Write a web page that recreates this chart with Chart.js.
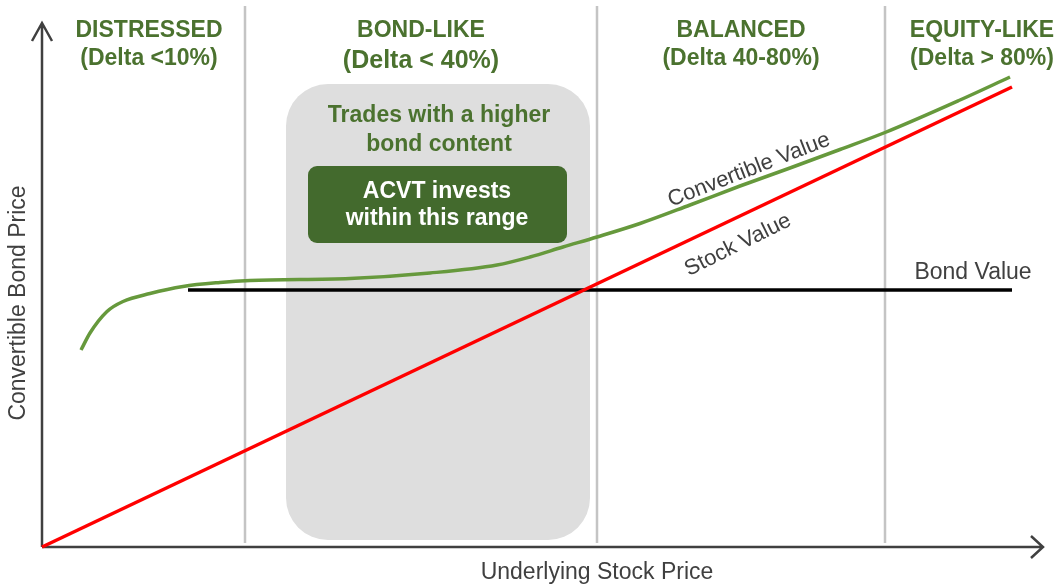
<!DOCTYPE html>
<html>
<head>
<meta charset="utf-8">
<script src="https://cdn.jsdelivr.net/npm/chart.js@4.4.1/dist/chart.umd.min.js"></script>
<style>
  html, body { margin: 0; padding: 0; background: #fff; }
  #wrap { width: 1060px; height: 586px; }
</style>
</head>
<body>
<div id="wrap"><canvas id="Chart"></canvas></div>
<script>
// stock price on x (0-100), bond price on y (0-100), conceptual units
const stockX = [0, 97];
const stockY = [0, 92];
const bondX = [14.6, 97];
const bondY = [51.4, 51.4];
const convX = [3.9, 4.8, 6.5, 8.1, 10.8, 14.1, 17.8, 20.8, 30.8, 38.8, 45.5, 48.8, 52.1, 55.5, 59.8, 64.8, 69.8, 74.8, 79.8, 84.3, 91.8, 96.8];
const convY = [39.4, 42.8, 47.1, 49.1, 50.7, 52.1, 52.9, 53.3, 53.7, 54.8, 56.4, 58.0, 60.0, 62.0, 64.7, 68.4, 72.2, 75.8, 79.5, 82.9, 89.4, 94.0];

const zoneEdges = [20.3, 55.5, 84.3];
const zoneTitles = ['DISTRESSED', 'BOND-LIKE', 'BALANCED', 'EQUITY-LIKE'];
const zoneDeltas = ['(Delta <10%)', '(Delta < 40%)', '(Delta 40-80%)', '(Delta > 80%)'];
const zoneLabelX = [10.7, 37.9, 69.9, 94];
const rangeFrom = 24.4;
const rangeTo = 54.8;

const green = '#4b722f';
const toPts = (xs, ys) => xs.map((v, i) => ({x: v, y: ys[i]}));

function text(ctx, str, x, y, font, color, angle) {
  ctx.save();
  ctx.translate(x, y);
  if (angle) ctx.rotate(angle);
  ctx.font = font;
  ctx.fillStyle = color;
  ctx.textAlign = 'center';
  ctx.textBaseline = 'middle';
  ctx.fillText(str, 0, 0);
  ctx.restore();
}

const overlay = {
  id: 'overlay',
  beforeDatasetsDraw(chart) {
    const ctx = chart.ctx;
    const x = chart.scales.x, y = chart.scales.y;
    const area = chart.chartArea;
    ctx.save();
    // shaded range
    ctx.fillStyle = '#dedede';
    ctx.beginPath();
    const bx = x.getPixelForValue(rangeFrom), bw = x.getPixelForValue(rangeTo) - bx;
    const by = y.getPixelForValue(92.6), bh = y.getPixelForValue(1.4) - by;
    ctx.roundRect(bx, by, bw, bh, 42);
    ctx.fill();
    // zone separators
    ctx.strokeStyle = '#c4c4c4';
    ctx.lineWidth = 2.5;
    zoneEdges.forEach(e => {
      const px = Math.round(x.getPixelForValue(e));
      ctx.beginPath();
      ctx.moveTo(px, 6);
      ctx.lineTo(px, area.bottom - 4);
      ctx.stroke();
    });
    // axes with arrows
    const ox = x.getPixelForValue(0), oy = y.getPixelForValue(0);
    ctx.strokeStyle = '#404040';
    ctx.lineWidth = 2.5;
    ctx.beginPath();
    ctx.moveTo(ox, oy); ctx.lineTo(ox, 23);
    ctx.moveTo(ox - 10, 41); ctx.lineTo(ox, 23); ctx.lineTo(ox + 10, 41);
    ctx.moveTo(ox, oy); ctx.lineTo(1043, oy);
    ctx.moveTo(1031, oy - 11); ctx.lineTo(1043, oy); ctx.lineTo(1031, oy + 11);
    ctx.stroke();
    ctx.restore();
  },
  afterDatasetsDraw(chart) {
    const ctx = chart.ctx;
    const x = chart.scales.x, y = chart.scales.y;
    ctx.save();
    // zone titles
    zoneTitles.forEach((t, i) => {
      const px = x.getPixelForValue(zoneLabelX[i]);
      text(ctx, t, px, 31, 'bold 23px "Liberation Sans", Arial, sans-serif', green);
      text(ctx, zoneDeltas[i], px, i === 1 ? 61 : 59, (i === 1 ? 'bold 25px' : 'bold 23px') + ' "Liberation Sans", Arial, sans-serif', green);
    });
    // shaded range captions
    const cx = (x.getPixelForValue(rangeFrom) + x.getPixelForValue(rangeTo)) / 2;
    text(ctx, 'Trades with a higher', cx + 1, 116, 'bold 23px "Liberation Sans", Arial, sans-serif', green);
    text(ctx, 'bond content', cx + 1, 145, 'bold 23px "Liberation Sans", Arial, sans-serif', green);
    ctx.fillStyle = '#436a2d';
    ctx.beginPath();
    ctx.roundRect(308, 166, 259, 77, 9);
    ctx.fill();
    text(ctx, 'ACVT invests', 437, 192, 'bold 23px "Liberation Sans", Arial, sans-serif', '#fff');
    text(ctx, 'within this range', 437, 219, 'bold 23px "Liberation Sans", Arial, sans-serif', '#fff');
    // line labels
    const lf = '22px "Liberation Sans", Arial, sans-serif';
    text(ctx, 'Convertible Value', x.getPixelForValue(70.7), y.getPixelForValue(75.4), lf, '#404040', -0.37);
    text(ctx, 'Stock Value', x.getPixelForValue(69.6), y.getPixelForValue(60.4), lf, '#404040', -0.46);
    text(ctx, 'Bond Value', x.getPixelForValue(93.1), y.getPixelForValue(54.9), '23px "Liberation Sans", Arial, sans-serif', '#404040');
    // axis titles
    text(ctx, 'Underlying Stock Price', 597, 573, '23px "Liberation Sans", Arial, sans-serif', '#404040');
    text(ctx, 'Convertible Bond Price', 19, 303, '23px "Liberation Sans", Arial, sans-serif', '#404040', -Math.PI / 2);
    ctx.restore();
  }
};

new Chart(document.getElementById('Chart'), {
  type: 'scatter',
  data: {
    datasets: [
      {
        label: 'Bond Value',
        data: toPts(bondX, bondY),
        showLine: true,
        borderColor: '#000',
        borderWidth: 3.5,
        pointRadius: 0,
        order: 3
      },
      {
        label: 'Stock Value',
        data: toPts(stockX, stockY),
        showLine: true,
        borderColor: '#ff0000',
        borderWidth: 3.5,
        pointRadius: 0,
        order: 2
      },
      {
        label: 'Convertible Value',
        data: toPts(convX, convY),
        showLine: true,
        borderColor: '#66993c',
        borderWidth: 3.5,
        pointRadius: 0,
        cubicInterpolationMode: 'monotone',
        order: 1
      }
    ]
  },
  options: {
    responsive: true,
    maintainAspectRatio: false,
    animation: false,
    layout: {
      padding: { left: 42, right: 18, top: 47, bottom: 39 }
    },
    scales: {
      x: { type: 'linear', min: 0, max: 100, display: false },
      y: { type: 'linear', min: 0, max: 100, display: false }
    },
    plugins: {
      legend: { display: false },
      tooltip: { enabled: false }
    },
    clip: false
  },
  plugins: [overlay]
});
</script>
</body>
</html>
